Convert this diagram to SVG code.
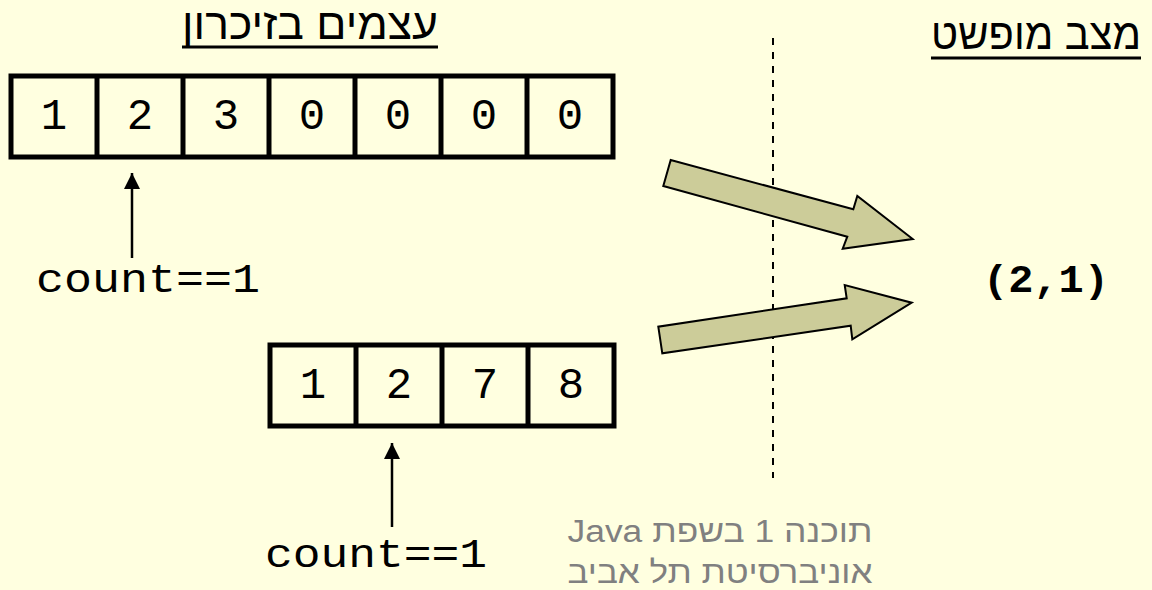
<svg xmlns="http://www.w3.org/2000/svg" width="1152" height="590" viewBox="0 0 1152 590">
<defs>
<style>
.bg{fill:#FFFFE0}
.cell{fill:none;stroke:#000;stroke-width:5}
.dig{font-family:"Liberation Mono",monospace;font-size:44px;fill:#000;text-anchor:middle}
.cnt{font-family:"Liberation Mono",monospace;font-size:40px;fill:#000}
.title{font-family:"Liberation Sans","DejaVu Sans",sans-serif;font-size:44px;fill:#000;text-anchor:middle}
.uline{stroke:#000;stroke-width:3}
.state{font-family:"Liberation Mono",monospace;font-size:38px;font-weight:bold;fill:#000}
.foot{font-family:"Liberation Sans",sans-serif;font-size:31px;fill:#808080;text-anchor:middle}
.ptr{stroke:#000;stroke-width:2.5;fill:none}
.block{fill:#CCCC99;stroke:#000;stroke-width:2;stroke-linejoin:miter}
.divider{stroke:#000;stroke-width:2;stroke-dasharray:7 7}
</style>
<marker id="head" markerUnits="userSpaceOnUse" markerWidth="16" markerHeight="18" viewBox="0 0 16 18" refX="16" refY="8" orient="auto">
<path d="M0,0 L16,8 L0,16 Z" fill="#000"/>
</marker>
</defs>
<rect class="bg" x="0" y="0" width="1152" height="590"/>

<g id="title-memory">
<text class="title" x="310" y="39" textLength="256" lengthAdjust="spacingAndGlyphs">עצמים בזיכרון</text>
<line class="uline" x1="182" y1="47" x2="438" y2="47"/>
</g>

<g id="title-abstract">
<text class="title" x="1036" y="49" textLength="210" lengthAdjust="spacingAndGlyphs">מצב מופשט</text>
<line class="uline" x1="931" y1="58" x2="1141" y2="58"/>
</g>

<g id="array-top">
<rect class="cell" x="11" y="76" width="602" height="81"/>
<line class="cell" x1="97" y1="76" x2="97" y2="157"/>
<line class="cell" x1="183" y1="76" x2="183" y2="157"/>
<line class="cell" x1="269" y1="76" x2="269" y2="157"/>
<line class="cell" x1="355" y1="76" x2="355" y2="157"/>
<line class="cell" x1="441" y1="76" x2="441" y2="157"/>
<line class="cell" x1="527" y1="76" x2="527" y2="157"/>
<text class="dig" x="54" y="129">1</text>
<text class="dig" x="140" y="129">2</text>
<text class="dig" x="226" y="129">3</text>
<text class="dig" x="312" y="129">0</text>
<text class="dig" x="398" y="129">0</text>
<text class="dig" x="484" y="129">0</text>
<text class="dig" x="570" y="129">0</text>
</g>

<g id="count-top">
<text class="cnt" x="36" y="292" textLength="224" lengthAdjust="spacingAndGlyphs">count==1</text>
</g>

<g id="array-bottom">
<rect class="cell" x="270" y="345" width="344" height="81"/>
<line class="cell" x1="356" y1="345" x2="356" y2="426"/>
<line class="cell" x1="442" y1="345" x2="442" y2="426"/>
<line class="cell" x1="528" y1="345" x2="528" y2="426"/>
<text class="dig" x="313" y="398">1</text>
<text class="dig" x="399" y="398">2</text>
<text class="dig" x="485" y="398">7</text>
<text class="dig" x="571" y="398">8</text>
</g>

<g id="count-bottom">
<text class="cnt" x="265" y="567" textLength="222" lengthAdjust="spacingAndGlyphs">count==1</text>
</g>

<g id="divider">
<line class="divider" x1="773" y1="38" x2="773" y2="478"/>
</g>

<g id="state">
<text class="state" x="983" y="292" textLength="126" lengthAdjust="spacingAndGlyphs">(2,1)</text>
</g>

<g id="footer">
<text class="foot" x="720" y="542" direction="rtl" textLength="305" lengthAdjust="spacingAndGlyphs">תוכנה 1 בשפת Java</text>
<text class="foot" x="720" y="583" direction="rtl" textLength="305" lengthAdjust="spacingAndGlyphs">אוניברסיטת תל אביב</text>
</g>

<g id="connectors">
<line class="ptr" x1="132" y1="258" x2="132" y2="173" marker-end="url(#head)"/>
<line class="ptr" x1="392" y1="527" x2="392" y2="443" marker-end="url(#head)"/>
<polygon class="block" points="670.7,160 663.3,186 847.3,236.7 842.7,248.7 912.7,239 857.3,196 853.3,209.3"/>
<polygon class="block" points="658.3,326.7 662.3,353.3 850.7,325.7 852.3,339.3 911.7,302.7 844.7,285 846.7,298.3"/>
</g>
</svg>
